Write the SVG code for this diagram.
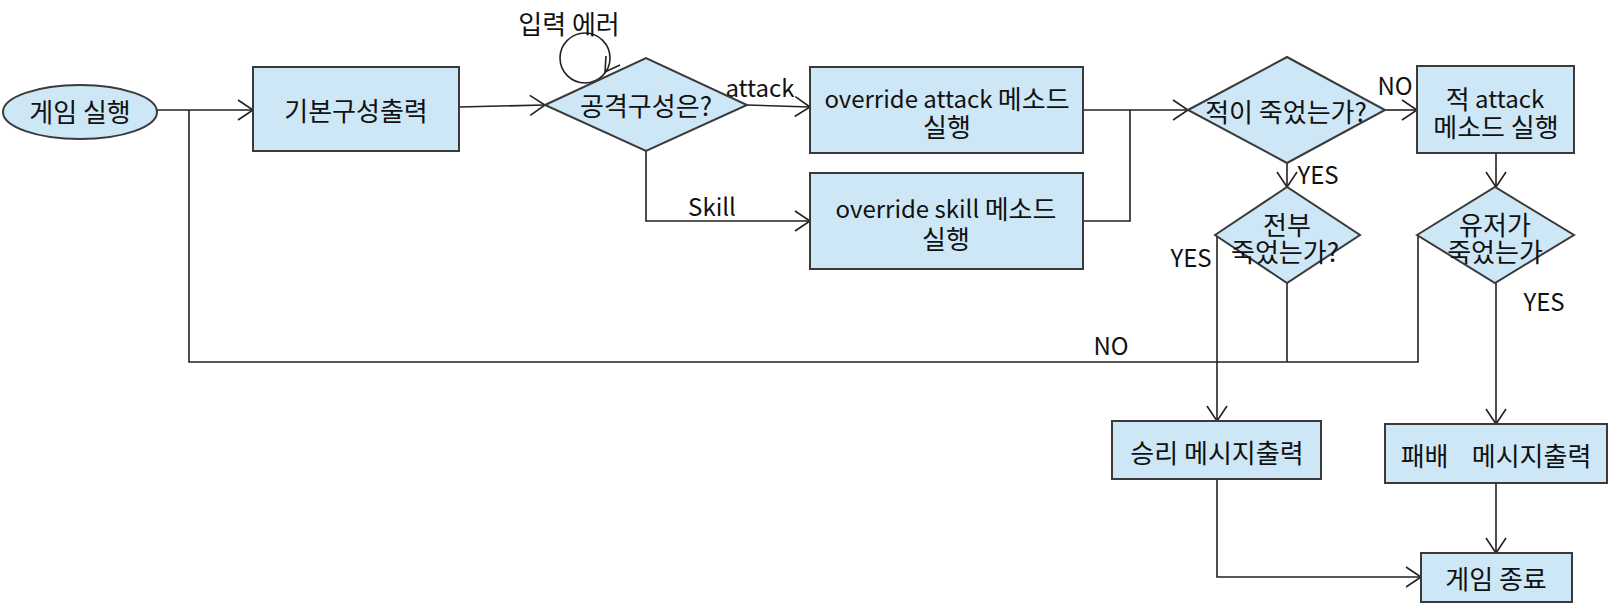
<svg xmlns="http://www.w3.org/2000/svg" width="1623" height="616" viewBox="0 0 1623 616">
<defs>
<style>
.node{fill:#cee7f6;stroke:#3a3a3a;stroke-width:2}
.t{font-family:"Noto Sans CJK KR","Noto Sans",sans-serif;font-size:24px;fill:#111;text-anchor:middle;dominant-baseline:central;white-space:pre}
.k{font-size:26px}
.c{fill:none;stroke:#222;stroke-width:1.6}
</style>
<marker id="ah" markerUnits="userSpaceOnUse" markerWidth="24" markerHeight="24" viewBox="-18 -12 20 24" refX="0" refY="0" orient="auto">
<path d="M-15,-10 L0,0 L-15,10" fill="none" stroke="#222" stroke-width="1.6"/>
</marker>
</defs>
<rect width="1623" height="616" fill="#ffffff"/>
<g id="connectors">
<path class="c" d="M157,110 L253,110" marker-end="url(#ah)"/>
<path class="c" d="M459,107 L545,105" marker-end="url(#ah)"/>
<circle class="c" cx="585" cy="58" r="25"/>
<polyline class="c" points="606,56 605,72 620,65"/>
<path class="c" d="M747,105 L810,107" marker-end="url(#ah)"/>
<path class="c" d="M646,151 L646,221 L810,221" marker-end="url(#ah)"/>
<path class="c" d="M1083,110 L1188,110" marker-end="url(#ah)"/>
<path class="c" d="M1083,221 L1130,221 L1130,110"/>
<path class="c" d="M1385,110 L1417,110" marker-end="url(#ah)"/>
<path class="c" d="M1287,163 L1287,187" marker-end="url(#ah)"/>
<path class="c" d="M1496,153 L1496,187" marker-end="url(#ah)"/>
<path class="c" d="M1217,235 L1217,421" marker-end="url(#ah)"/>
<path class="c" d="M1496,283 L1496,424" marker-end="url(#ah)"/>
<path class="c" d="M1217,479 L1217,577 L1421,577" marker-end="url(#ah)"/>
<path class="c" d="M1496,483 L1496,553" marker-end="url(#ah)"/>
<path class="c" d="M1418,235 L1418,362 L189,362 L189,110"/>
<path class="c" d="M1287,283 L1287,362"/>
<text class="t k" x="569" y="22">입력 에러</text>
<text class="t" x="760" y="86">attack</text>
<text class="t" x="712" y="205">Skill</text>
<text class="t" x="1395" y="84">NO</text>
<text class="t" x="1318" y="173">YES</text>
<text class="t" x="1191" y="256">YES</text>
<text class="t" x="1544" y="300">YES</text>
<text class="t" x="1111" y="344">NO</text>
</g>
<g id="start">
<ellipse class="node" cx="80" cy="112" rx="77" ry="27"/>
<text class="t k" x="80" y="110">게임 실행</text>
</g>
<g id="basic">
<rect class="node" x="253" y="67" width="206" height="84"/>
<text class="t k" x="356" y="109">기본구성출력</text>
</g>
<g id="attackType">
<polygon class="node" points="545,105 646,58 747,105 646,151"/>
<text class="t k" x="646" y="104">공격구성은?</text>
</g>
<g id="attackMethod">
<rect class="node" x="810" y="67" width="273" height="86"/>
<text class="t" x="947" y="97">override attack <tspan class="k">메소드</tspan><tspan class="k" x="947" dy="28">실행</tspan></text>
</g>
<g id="skillMethod">
<rect class="node" x="810" y="173" width="273" height="96"/>
<text class="t" x="946" y="207">override skill <tspan class="k">메소드</tspan><tspan class="k" x="946" dy="30">실행</tspan></text>
</g>
<g id="enemyDead">
<polygon class="node" points="1188,110 1287,57 1385,110 1287,163"/>
<text class="t k" x="1286" y="110">적이 죽었는가?</text>
</g>
<g id="enemyAttack">
<rect class="node" x="1417" y="66" width="157" height="87"/>
<text class="t" x="1495" y="97"><tspan class="k">적</tspan> attack<tspan class="k" x="1496" dy="28">메소드 실행</tspan></text>
</g>
<g id="allDead">
<polygon class="node" points="1215,235 1287,187 1360,235 1287,283"/>
<text class="t k" x="1287" y="223">전부<tspan x="1285" dy="27">죽었는가?</tspan></text>
</g>
<g id="userDead">
<polygon class="node" points="1417,235 1495,187 1574,235 1495,283"/>
<text class="t k" x="1495" y="223">유저가<tspan x="1495" dy="27">죽었는가</tspan></text>
</g>
<g id="win">
<rect class="node" x="1112" y="421" width="209" height="58"/>
<text class="t k" x="1217" y="451">승리 메시지출력</text>
</g>
<g id="lose">
<rect class="node" x="1385" y="424" width="222" height="59"/>
<text class="t k" x="1496" y="454">패배    메시지출력</text>
</g>
<g id="end">
<rect class="node" x="1421" y="553" width="151" height="49"/>
<text class="t k" x="1496" y="577">게임 종료</text>
</g>
</svg>
